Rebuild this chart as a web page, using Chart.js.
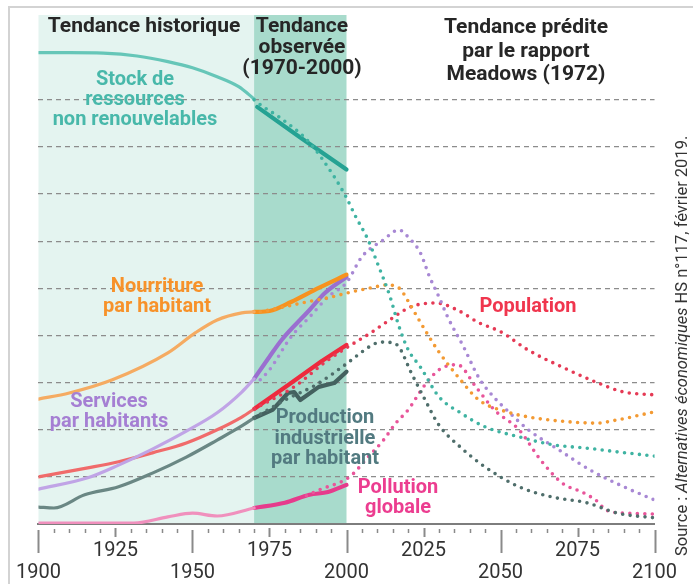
<!DOCTYPE html>
<html><head><meta charset="utf-8">
<script src="https://cdn.jsdelivr.net/npm/chart.js@4.4.1/dist/chart.umd.min.js"></script>
<style>html,body{margin:0;padding:0;background:#fff;}#wrap{position:relative;width:693px;height:584px;}</style>
</head><body><div id="wrap"><canvas id="c" width="693" height="584"></canvas></div>
<script>
// ---- Data (values in grid units; years on x) ----
const stockHistYears = [1900,1910,1921,1932,1942,1950,1958,1965,1970];
const stockHist      = [10.0,10.0,9.99,9.93,9.81,9.68,9.49,9.28,9.02];
const stockObsYears  = [1971,1985,2000];
const stockObs       = [8.85,8.2,7.52];
const stockPredYears = [1970,1973,1978,1988,1996,2000,2003,2007,2010,2014,2017,2020,2024,2030,2037,2045,2056,2067,2078,2088,2100];
const stockPred      = [9.0,8.85,8.64,8.09,7.37,6.92,6.52,6.03,5.54,4.85,4.2,3.7,3.33,2.70,2.36,2.06,1.85,1.68,1.61,1.53,1.44];

const nourHistYears = [1900,1910,1924,1942,1951,1958,1966,1970];
const nourHist      = [2.65,2.78,3.06,3.63,4.06,4.33,4.48,4.5];
const nourObsYears  = [1970,1975,1982,1991,2000];
const nourObs       = [4.5,4.52,4.71,5.01,5.29];
const nourPredYears = [1972,1980,1987,1994,2002,2008,2013,2017,2020,2023,2026,2030,2037,2043,2052,2061,2072,2081,2088,2100];
const nourPred      = [4.5,4.61,4.71,4.80,4.93,5.01,5.07,5.01,4.73,4.39,4.06,3.65,3.06,2.63,2.38,2.25,2.17,2.14,2.21,2.38];

const servHistYears = [1900,1916,1926,1937,1948,1958,1966,1970];
const servHist      = [0.74,0.98,1.25,1.59,1.97,2.36,2.80,3.08];
const servObsYears  = [1970,1975,1979,1988,1993,2000];
const servObs       = [3.08,3.55,3.91,4.54,4.9,5.24];
const servPredYears = [1972,1975,1982,1988,1994,2000,2005,2012,2017,2020,2024,2027,2030,2033,2038,2043,2048,2052,2059,2069,2079,2090,2100];
const servPred      = [3.06,3.27,3.97,4.39,4.82,5.12,5.67,6.03,6.24,6.09,5.75,5.24,4.82,4.37,3.76,3.10,2.68,2.42,2.0,1.57,1.15,0.79,0.51];

const popHistYears = [1900,1916,1926,1937,1948,1958,1966,1970];
const popHist      = [1.0,1.19,1.32,1.51,1.72,2.0,2.27,2.44];
const popObsYears  = [1970,1982,1992,2000];
const popObs       = [2.44,2.99,3.46,3.8];
const popPredYears = [1970,1983,1994,2003,2008,2014,2021,2029,2036,2043,2050,2059,2070,2081,2090,2100];
const popPred      = [2.44,2.91,3.48,3.86,4.06,4.33,4.61,4.69,4.54,4.27,4.08,3.69,3.33,3.01,2.80,2.74];

const prodHistYears = [1900,1905,1915,1926,1937,1948,1958,1966,1970];
const prodHist      = [0.36,0.34,0.62,0.79,1.08,1.42,1.78,2.08,2.25];
const prodObsYears  = [1970,1976,1981,1983,1985,1991,1996,2000];
const prodObs       = [2.25,2.42,2.78,2.80,2.63,2.91,2.99,3.23];
const prodPredYears = [1970,1980,1990,2000,2005,2009,2012,2015,2017,2021,2025,2030,2037,2045,2056,2067,2078,2088,2100];
const prodPred      = [2.25,2.63,2.95,3.40,3.65,3.82,3.86,3.84,3.76,3.21,2.70,2.10,1.63,1.21,0.79,0.57,0.45,0.23,0.13];

const pollHistYears = [1900,1931,1942,1950,1958,1970];
const pollHist      = [0.02,0.02,0.15,0.23,0.17,0.34];
const pollObsYears  = [1970,1980,1988,1994,2000];
const pollObs       = [0.34,0.45,0.62,0.68,0.83];
const pollPredYears = [1987,1991,2001,2007,2012,2016,2020,2025,2030,2036,2042,2048,2056,2063,2070,2077,2082,2084,2091,2100];
const pollPred      = [0.60,0.72,1.0,1.42,1.78,2.14,2.42,2.91,3.27,3.38,2.91,2.42,2.0,1.36,0.87,0.66,0.45,0.30,0.23,0.21];

const xTickLabels = [1900,1925,1950,1975,2000,2025,2050,2075,2100];
const periods = [1900,1970,2000,2100];

// ---- helpers ----
const pts = (xs, ys) => xs.map((x,i)=>({x, y: ys[i]}));
function solid(xs, ys, color, w, straight){
  return {data: pts(xs,ys), borderColor: color, borderWidth: w, pointRadius: 0, fill:false,
          cubicInterpolationMode: straight ? 'default' : 'monotone', tension: straight?0:0.4, borderCapStyle:'round', borderJoinStyle:'round'};
}
function dotted(xs, ys, color){
  return {data: pts(xs,ys), borderColor: color, borderWidth: 3.6, pointRadius: 0, fill:false,
          cubicInterpolationMode:'monotone', borderDash:[0,7.5], borderCapStyle:'round'};
}

const datasets = [
  dotted(stockPredYears, stockPred, '#3fb3a2'),
  dotted(nourPredYears, nourPred, '#f39a33'),
  dotted(servPredYears, servPred, '#a888d4'),
  dotted(popPredYears, popPred, '#e53a55'),
  dotted(prodPredYears, prodPred, '#4f6e6b'),
  dotted(pollPredYears, pollPred, '#e8559a'),
  solid(stockHistYears, stockHist, '#66c6b8', 3.2),
  solid(nourHistYears, nourHist, '#f5ab62', 3.2),
  solid(servHistYears, servHist, '#c0a4e6', 3.2),
  solid(popHistYears, popHist, '#f06b6b', 3.2),
  solid(prodHistYears, prodHist, '#6a8784', 3.2),
  solid(pollHistYears, pollHist, '#f090bd', 3.2),
  solid(stockObsYears, stockObs, '#25a293', 4.2, true),
  solid(nourObsYears, nourObs, '#f7921e', 4.2),
  solid(servObsYears, servObs, '#9a6fd0', 4.2),
  solid(popObsYears, popObs, '#ee2a3e', 4.2, true),
  solid(prodObsYears, prodObs, '#44615f', 4.2, true),
  solid(pollObsYears, pollObs, '#e63b8c', 4.2)
];

const FONT = 'Roboto, "DejaVu Sans", sans-serif';

function textLines(ctx, lines, x, y0, dy, font, color){
  ctx.font = font; ctx.fillStyle = color; ctx.textAlign='center'; ctx.textBaseline='middle';
  lines.forEach((l,i)=>ctx.fillText(l, x, y0 + i*dy));
}

const deco = {
  id:'deco',
  beforeDraw(chart){
    const {ctx, chartArea:a, scales:{x}} = chart;
    ctx.save();
    ctx.strokeStyle='#d3d3d3'; ctx.lineWidth=2;
    ctx.beginPath(); ctx.moveTo(8,7); ctx.lineTo(693,7); ctx.moveTo(9,7); ctx.lineTo(9,584); ctx.stroke();
    const p0=x.getPixelForValue(periods[0]), p1=x.getPixelForValue(periods[1]), p2=x.getPixelForValue(periods[2]);
    ctx.fillStyle='#e4f4f0'; ctx.fillRect(p0, a.top, p1-p0, a.bottom-a.top);
    ctx.fillStyle='#a8dbcc'; ctx.fillRect(p1, a.top, p2-p1, a.bottom-a.top);
    ctx.restore();
  },
  afterDraw(chart){
    const {ctx, chartArea:a, scales:{x}} = chart;
    ctx.save();
    ctx.strokeStyle='#8a8a8a';
    for(let yr=1900; yr<=2100; yr+=5){
      const px = Math.round(x.getPixelForValue(yr))+0.5;
      ctx.beginPath();
      if(yr%50===0){ ctx.lineWidth=2; ctx.moveTo(px, a.bottom+6); ctx.lineTo(px, a.bottom+29); }
      else if(yr%25===0){ ctx.lineWidth=2; ctx.moveTo(px, a.bottom+4); ctx.lineTo(px, a.bottom+13); }
      else { ctx.lineWidth=1.5; ctx.moveTo(px, a.bottom+5); ctx.lineTo(px, a.bottom+9); }
      ctx.stroke();
    }
    const hf = 'bold 21px '+FONT;
    textLines(ctx, ['Tendance historique'], 144, 27, 21, hf, '#262626');
    textLines(ctx, ['Tendance','observée','(1970-2000)'], 302, 27, 21, hf, '#262626');
    textLines(ctx, ['Tendance prédite','par le rapport','Meadows (1972)'], 526, 28, 23.5, hf, '#262626');
    const lf = 'bold 20px '+FONT;
    textLines(ctx, ['Stock de','ressources','non renouvelables'], 135, 80, 20, lf, '#48b8aa');
    textLines(ctx, ['Nourriture','par habitant'], 157, 287, 20, lf, '#f7922a');
    textLines(ctx, ['Services','par habitants'], 109, 402, 20, lf, '#a57fd3');
    textLines(ctx, ['Production','industrielle','par habitant'], 325, 418, 20.5, lf, '#527a80');
    textLines(ctx, ['Pollution','globale'], 398, 488, 20, lf, '#ec3d90');
    textLines(ctx, ['Population'], 528, 307, 21, lf, '#f0364e');
    ctx.translate(683, 556); ctx.rotate(-Math.PI/2);
    ctx.textAlign='left'; ctx.textBaseline='middle'; ctx.fillStyle='#333';
    const parts=[['Source : ','16.5px '+FONT],['Alternatives économiques','italic 16.5px '+FONT],[' HS n°117, février 2019.','16.5px '+FONT]];
    let cx=0;
    parts.forEach(([t,f])=>{ ctx.font=f; ctx.fillText(t,cx,0); cx+=ctx.measureText(t).width; });
    ctx.restore();
  }
};

new Chart(document.getElementById('c'), {
  type:'line',
  data:{datasets},
  options:{
    responsive:false, animation:false, events:[],
    layout:{padding:{top:15,left:35,right:36,bottom:0}},
    plugins:{legend:{display:false}, tooltip:{enabled:false}},
    scales:{
      x:{type:'linear', min:1900, max:2100,
         afterFit:s=>{s.height=60;},
         grid:{display:false, drawTicks:false},
         border:{display:true, color:'#7d7d7d', width:2},
         ticks:{stepSize:5, autoSkip:false, maxRotation:0, minRotation:0, padding:16, color:'#333',
                font:{family:FONT, size:20, lineHeight:1.1},
                callback:(v)=> xTickLabels.includes(v) ? (v%50===0 ? ['', String(v)] : String(v)) : ''}},
      y:{min:0, max:10.8, afterFit:s=>{s.width=0;},
         border:{display:false, dash:[5,4]},
         ticks:{display:false, stepSize:1},
         grid:{drawTicks:false, lineWidth:1.3, color:(c)=> (c.tick && c.tick.value>=1 && c.tick.value<=9) ? '#8c8c8c' : 'rgba(0,0,0,0)'}
      }
    }
  },
  plugins:[deco]
});
</script></body></html>
